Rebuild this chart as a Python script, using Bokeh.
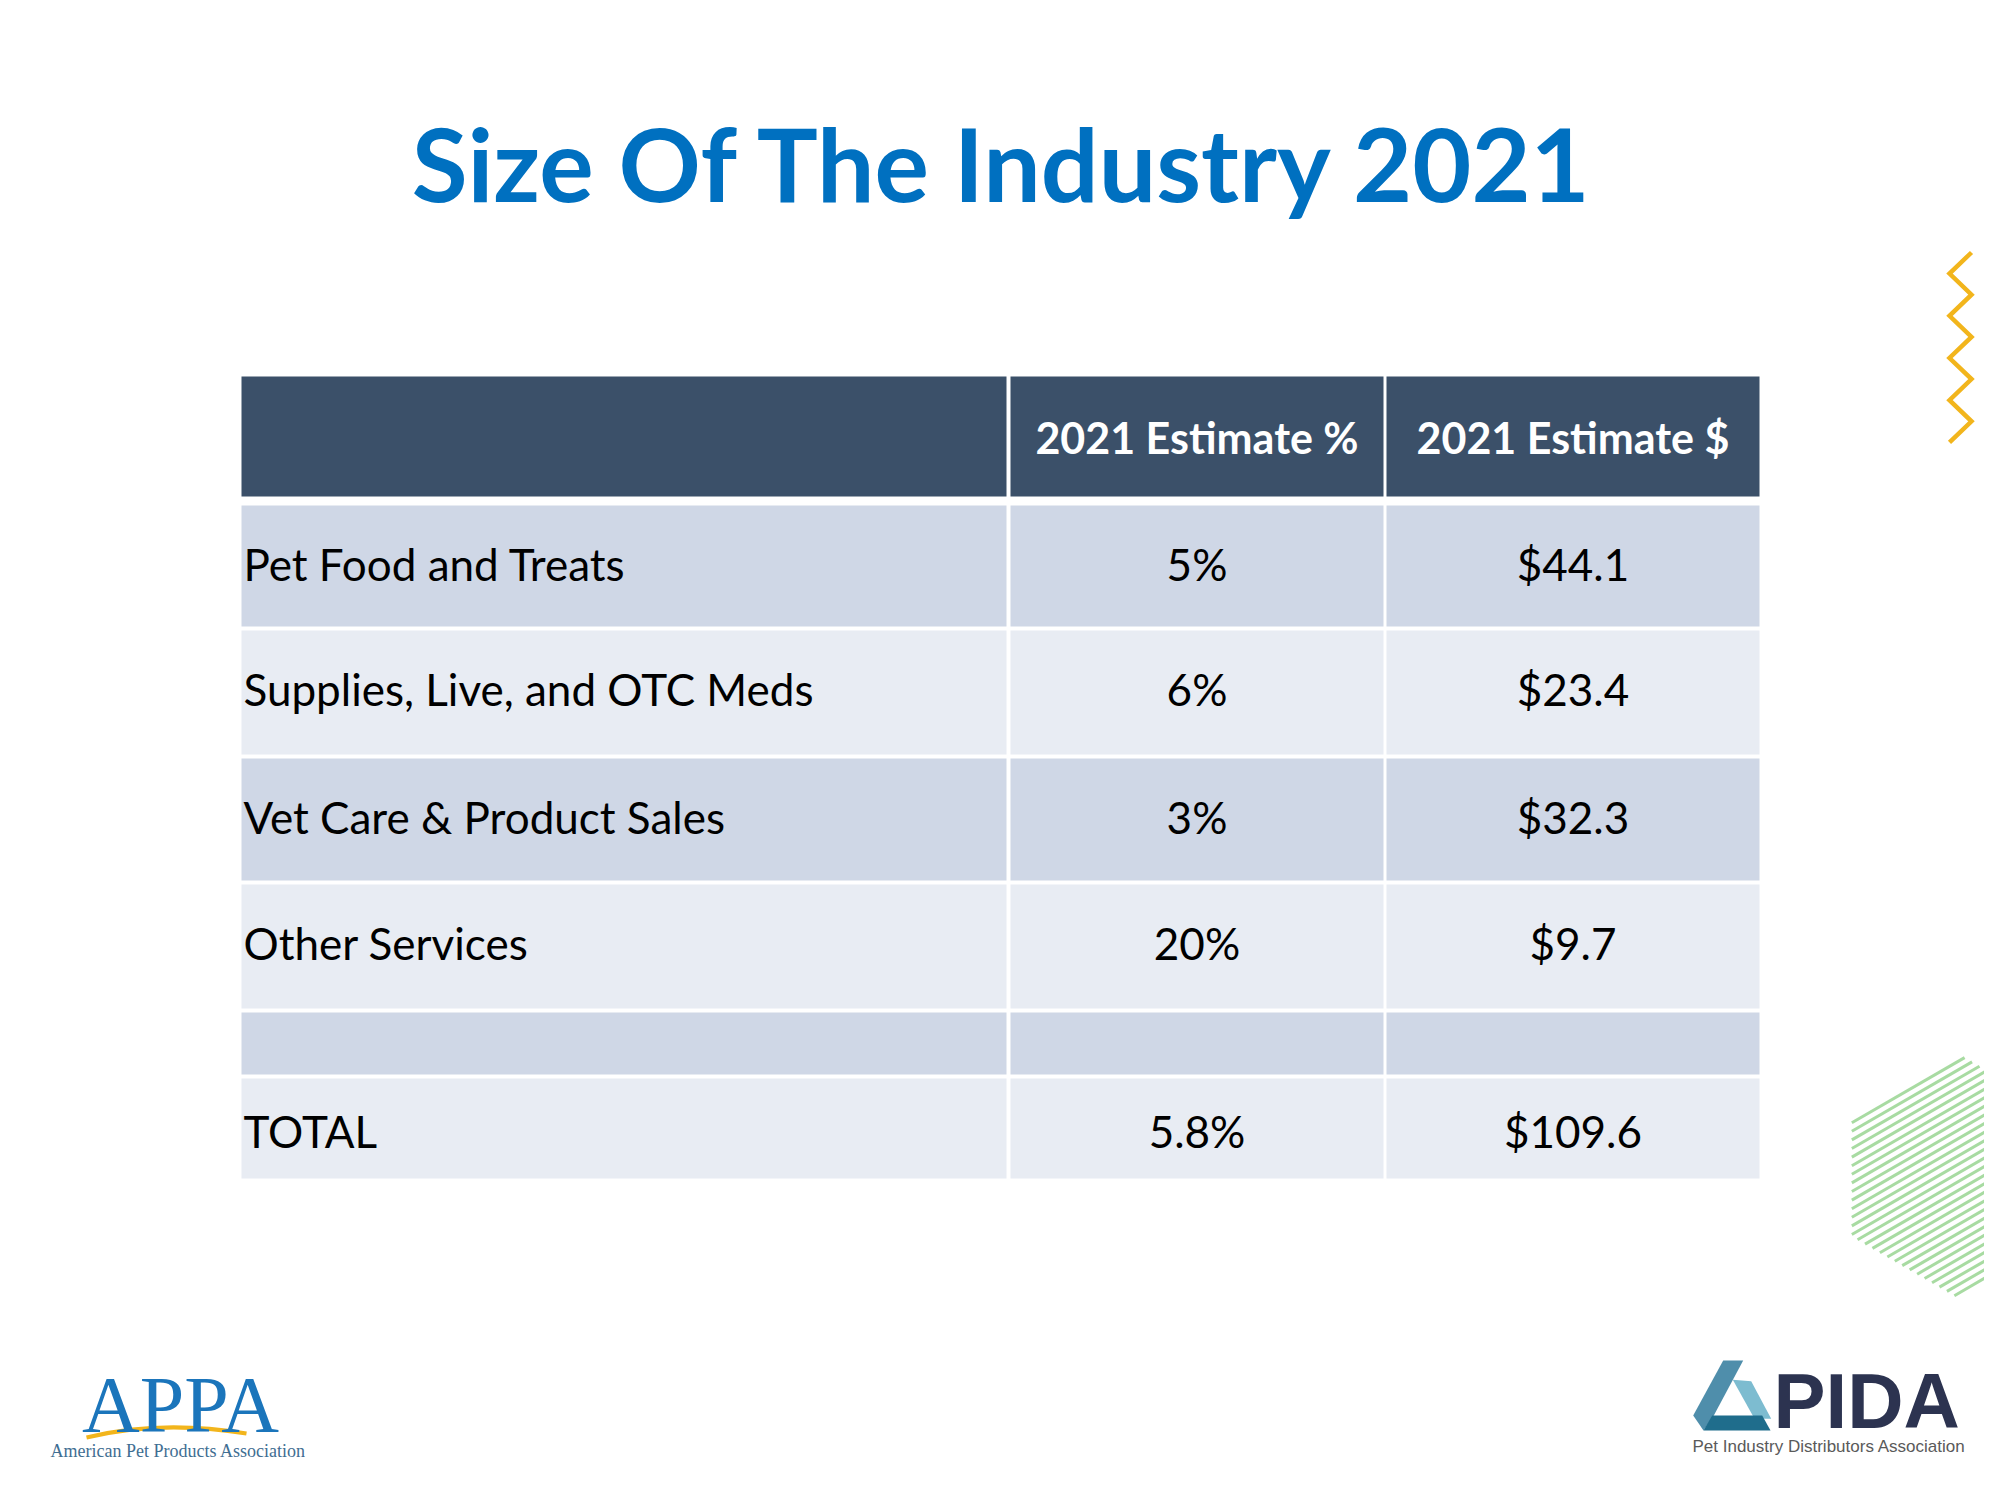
import numpy as np
from bokeh.plotting import figure
from bokeh.models import Range1d, ColumnDataSource
from bokeh.core.properties import value
from bokeh.embed import file_html
from bokeh.resources import INLINE

# ---------------- data ----------------
title_text = "Size Of The Industry 2021"
header_labels = ["", "2021 Estimate %", "2021 Estimate $"]
categories = ["Pet Food and Treats", "Supplies, Live, and OTC Meds",
              "Vet Care & Product Sales", "Other Services", "", "TOTAL"]
estimate_pct = ["5%", "6%", "3%", "20%", "", "5.8%"]
estimate_usd = ["$44.1", "$23.4", "$32.3", "$9.7", "", "$109.6"]

# ---------------- layout / style ----------------
W, H = 1984, 1484
FONT = "Lato"
HEADER_BG = "#3B5069"
ROW_BG = ["#CFD7E6", "#E8ECF3"]
TITLE_COLOR = "#0070C0"

col_left = [241, 1010, 1386]
col_right = [1006, 1383, 1759]
header_top, header_bottom = 376, 496
row_heights = [121, 124, 122, 124, 62, 100]
row_gap = 4
first_row_top = 505


def bl(baseline, size):
    # compensate the renderer's baseline placement so glyphs sit on `baseline`
    return baseline - 0.41 * size


p = figure(width=W, height=H, x_range=Range1d(0, W), y_range=Range1d(H, 0),
           output_backend="svg", toolbar_location=None, min_border=0,
           x_axis_location=None, y_axis_location=None)
p.grid.grid_line_color = None
p.outline_line_color = None
p.background_fill_color = "white"
p.border_fill_color = "white"

# title
p.text(x=[1004], y=[bl(204, 102)], text=[title_text], text_font=value(FONT),
       text_font_style="bold", text_font_size="102px", text_color=TITLE_COLOR,
       text_align="center", text_baseline="alphabetic")

# header cells
p.quad(left=col_left, right=col_right, top=[header_top] * 3, bottom=[header_bottom] * 3,
       fill_color=HEADER_BG, line_color=None)
p.text(x=[(l + r) / 2 for l, r in zip(col_left, col_right)], y=[bl(455, 43)] * 3,
       text=header_labels, text_font=value(FONT), text_font_style="bold",
       text_font_size="43px", text_color="white", text_align="center",
       text_baseline="alphabetic")

# body rows
tops, bottoms = [], []
t = first_row_top
for h in row_heights:
    tops.append(t)
    bottoms.append(t + h)
    t += h + row_gap

cell = dict(left=[], right=[], top=[], bottom=[], color=[])
for i in range(len(categories)):
    for c in range(3):
        cell["left"].append(col_left[c])
        cell["right"].append(col_right[c])
        cell["top"].append(tops[i])
        cell["bottom"].append(bottoms[i])
        cell["color"].append(ROW_BG[i % 2])
p.quad(left="left", right="right", top="top", bottom="bottom", fill_color="color",
       line_color=None, source=ColumnDataSource(cell))

base = [bl(tp + 77, 44) for tp in tops]
base[-1] = bl(tops[-1] + 71, 44)
p.text(x=[col_left[0] + 2] * len(categories), y=base, text=categories,
       text_font=value(FONT), text_font_size="44px", text_color="black",
       text_align="left", text_baseline="alphabetic")
p.text(x=[(col_left[1] + col_right[1]) / 2] * len(categories), y=base, text=estimate_pct,
       text_font=value(FONT), text_font_size="44px", text_color="black",
       text_align="center", text_baseline="alphabetic")
p.text(x=[(col_left[2] + col_right[2]) / 2] * len(categories), y=base, text=estimate_usd,
       text_font=value(FONT), text_font_size="44px", text_color="black",
       text_align="center", text_baseline="alphabetic")

# ---------------- decorations ----------------
# yellow zigzag
zx, zy = [], []
for k in range(10):
    zx.append(1971 if k % 2 == 0 else 1949)
    zy.append(252 + k * 21.1)
p.line(zx, zy, line_color="#F2B51C", line_width=4.5, line_join="miter")

# green striped hexagon
cx, cy, r = 1957, 1175, 122
ang = np.deg2rad([90, 150, 210, 270, 330, 30])
hx = cx + r * np.cos(ang)
hy = cy - r * np.sin(ang)
slope = -np.tan(np.deg2rad(30))
xs, ys = [], []
for c0 in np.arange(cy - slope * cx - 260, cy - slope * cx + 260, 8.6):
    pts = []
    for j in range(6):
        x1, y1 = hx[j], hy[j]
        x2, y2 = hx[(j + 1) % 6], hy[(j + 1) % 6]
        f1 = y1 - (slope * x1 + c0)
        f2 = y2 - (slope * x2 + c0)
        if f1 == f2:
            continue
        s = f1 / (f1 - f2)
        if 0 <= s <= 1:
            pts.append(x1 + s * (x2 - x1))
    if len(pts) >= 2:
        a, b = min(pts), max(pts)
        if b - a > 1:
            xs.append([a, b])
            ys.append([slope * a + c0, slope * b + c0])
p.multi_line(xs, ys, line_color="#A8DBA2", line_width=3)

# APPA logo
p.quadratic(x0=[86], y0=[1437], x1=[246], y1=[1433], cx=[160], cy=[1419],
            line_color="#F2B51C", line_width=4)
p.text(x=[180], y=[bl(1437, 80)], text=["APPA"], text_font=value("Liberation Serif"),
       text_font_size="80px", text_color="#1B75BB", text_align="center",
       text_baseline="alphabetic")
p.text(x=[50], y=[bl(1458, 18)], text=["American Pet Products Association"],
       text_font=value("Liberation Serif"), text_font_size="18px", text_color="#3F6E92",
       text_align="left", text_baseline="alphabetic")

# PIDA logo
p.patch([1722.7, 1742.7, 1713.3, 1703, 1692.7], [1360, 1360, 1415, 1430, 1415],
        fill_color="#4F8EAB", line_color=None)
p.patch([1732.3, 1750.7, 1770.7, 1754], [1379.3, 1380.7, 1418.3, 1418.3],
        fill_color="#7DBCD0", line_color=None)
p.patch([1711.7, 1761.7, 1770, 1703], [1415, 1415, 1430, 1430],
        fill_color="#1F6D8C", line_color=None)
p.text(x=[1773], y=[bl(1432, 78)], text=["PIDA"], text_font=value("Liberation Sans"),
       text_font_style="bold", text_font_size="78px", text_color="#2C3350",
       text_align="left", text_baseline="alphabetic")
p.text(x=[1692], y=[bl(1453, 17)], text=["Pet Industry Distributors Association"],
       text_font=value("Liberation Sans"), text_font_size="17px", text_color="#5A5A5A",
       text_align="left", text_baseline="alphabetic")

open("out.html", "w").write(file_html(p, INLINE))
